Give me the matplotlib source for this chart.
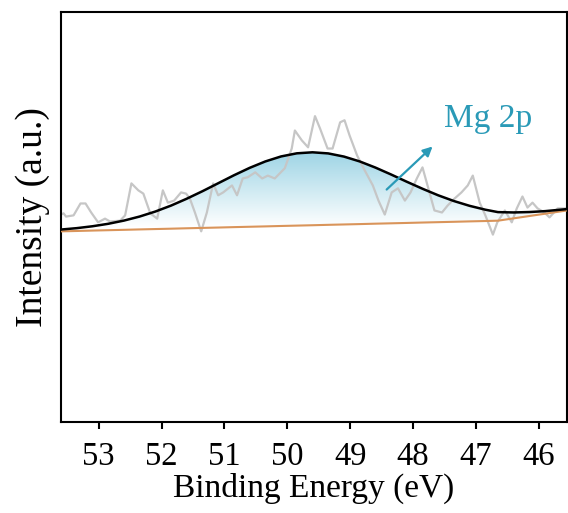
"""XPS Mg 2p spectrum: raw data, fitted envelope and baseline."""
import matplotlib
matplotlib.use("Agg")
import matplotlib.pyplot as plt
import numpy as np
from matplotlib.colors import LinearSegmentedColormap

# raw spectrum (binding energy in eV, intensity in a.u.)
raw_be = [53.60, 53.56, 53.52, 53.40, 53.29, 53.21, 53.12, 53.01, 52.90, 52.82,
          52.66, 52.58, 52.48, 52.37, 52.29, 52.18, 52.07, 51.98, 51.90, 51.80,
          51.69, 51.61, 51.55, 51.47, 51.37, 51.28, 51.18, 51.10, 51.02, 50.88,
          50.80, 50.71, 50.63, 50.51, 50.40, 50.31, 50.20, 50.04, 49.93, 49.88,
          49.77, 49.67, 49.56, 49.48, 49.36, 49.28, 49.16, 49.09, 49.01, 48.89,
          48.77, 48.64, 48.55, 48.45, 48.34, 48.24, 48.13, 48.04, 47.94, 47.85,
          47.77, 47.66, 47.54, 47.45, 47.34, 47.23, 47.13, 47.05, 46.94, 46.85,
          46.73, 46.66, 46.54, 46.43, 46.35, 46.26, 46.18, 46.10, 46.02, 45.91,
          45.83, 45.70, 45.56]
raw_int = [50.6, 50.9, 50.1, 50.4, 53.3, 53.3, 51.1, 48.7, 49.6, 48.9,
           49.1, 50.4, 58.2, 56.5, 55.7, 50.9, 49.6, 56.5, 53.5, 54.0,
           56.0, 55.7, 54.5, 51.1, 46.5, 51.1, 58.2, 55.3, 56.0, 57.7,
           55.3, 59.4, 59.7, 60.9, 59.4, 60.1, 59.4, 61.9, 66.7, 71.1,
           68.7, 67.0, 74.6, 71.6, 66.7, 66.7, 73.1, 73.6, 69.9, 65.0,
           61.4, 57.7, 54.0, 50.6, 56.0, 57.0, 54.0, 56.0, 59.4, 62.1,
           57.7, 51.6, 51.1, 52.8, 54.5, 56.0, 57.7, 60.1, 53.5, 50.4,
           45.7, 48.7, 51.6, 48.7, 52.1, 55.0, 52.3, 53.5, 52.1, 51.1,
           49.9, 52.1, 52.1]

# fitted envelope and background, sampled along the energy axis
fit_be = [53.60, 53.35, 53.10, 52.85, 52.60, 52.35, 52.10, 51.85, 51.60, 51.35,
          51.10, 50.85, 50.60, 50.35, 50.10, 49.85, 49.60, 49.35, 49.10, 48.85,
          48.60, 48.35, 48.10, 47.85, 47.60, 47.35, 47.10, 46.85, 46.65, 46.40,
          46.15, 45.90, 45.55]
envelope = [46.94, 47.28, 47.74, 48.34, 49.12, 50.11, 51.33, 52.78, 54.46, 56.29,
            58.23, 60.17, 61.98, 63.55, 64.77, 65.53, 65.78, 65.51, 64.74, 63.56,
            62.06, 60.37, 58.60, 56.89, 55.29, 53.89, 52.72, 51.78, 51.19, 51.11,
            51.21, 51.43, 51.93]
background = [46.50, 46.59, 46.69, 46.78, 46.87, 46.97, 47.06, 47.15, 47.25, 47.34,
              47.43, 47.53, 47.62, 47.71, 47.81, 47.90, 47.99, 48.09, 48.18, 48.27,
              48.37, 48.46, 48.55, 48.65, 48.74, 48.83, 48.93, 49.02, 49.10, 49.67,
              50.24, 50.80, 51.60]

TEAL = '#2a9ab7'
plt.rcParams.update({'font.family': 'Liberation Serif', 'font.size': 24})

fig = plt.figure(figsize=(5.68, 5.13), dpi=100)
ax = fig.add_axes([0.1074, 0.1774, 0.891, 0.7992])
ax.set_xlim(53.6, 45.55)
ax.set_ylim(0, 100)

# gradient fill between envelope and background
poly = ax.fill_between(fit_be, background, envelope, color='none', lw=0)
cmap = LinearSegmentedColormap.from_list('fade', ['#ffffff', '#9dd4e5'])
grad = np.linspace(0, 1, 256).reshape(-1, 1)
im = ax.imshow(grad, cmap=cmap, aspect='auto', origin='lower',
               extent=[53.6, 45.55, 47.5, 66.0], zorder=1)
im.set_clip_path(poly.get_paths()[0], transform=ax.transData)

ax.plot(raw_be, raw_int, color='#c6c6c6', lw=1.6, zorder=2)
ax.plot(fit_be, background, color='#d9945a', lw=1.5, zorder=3)
ax.plot(fit_be, envelope, color='black', lw=1.8, zorder=4)

ax.annotate('', xy=(47.69, 67.2), xytext=(48.42, 56.7),
            arrowprops=dict(arrowstyle='-|>', color=TEAL, lw=1.6,
                            mutation_scale=14, shrinkA=0, shrinkB=0), zorder=5)
ax.text(47.50, 71.9, 'Mg 2p', color=TEAL, fontsize=24, va='baseline', ha='left')

ax.set_xticks([53, 52, 51, 50, 49, 48, 47, 46])
ax.set_yticks([])
ax.tick_params(axis='x', direction='out', length=5, width=1.5, pad=9, labelsize=23.5)
for s in ax.spines.values():
    s.set_linewidth(1.5)
ax.set_xlabel('Binding Energy (eV)', fontsize=24, labelpad=0.5)
ax.set_ylabel('Intensity (a.u.)', fontsize=27, labelpad=8)

fig.savefig('out.png', dpi=100)
